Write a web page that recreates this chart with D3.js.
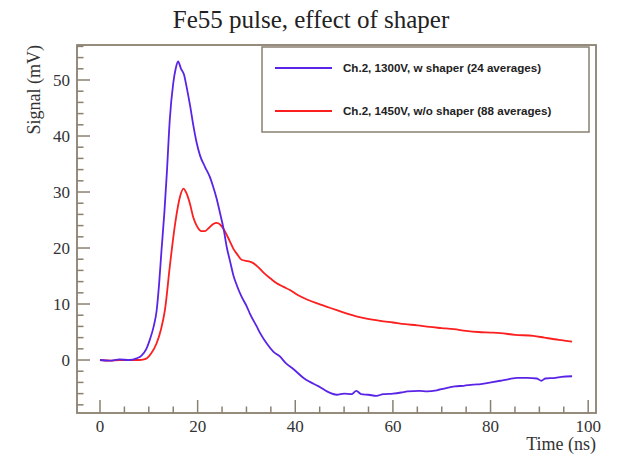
<!DOCTYPE html>
<html>
<head>
    <title>Fe55 pulse, effect of shaper</title>
    <style>
        html, body { margin: 0; padding: 0; background: #fff; }
        .tick-label { font-family: "Liberation Serif", "Times New Roman", serif; font-size: 17px; fill: #333; }
        .legend-text { font-family: "Liberation Sans", Arial, sans-serif; font-size: 11.6px; font-weight: bold; fill: #222; }
    </style>
    <script src="https://d3js.org/d3.v7.min.js"></script>
</head>
<body>
    <svg id="chart"></svg>
</body>
<script>
// time axis (ns) and signals (mV)
const blueTime = [0, 2, 4, 6, 7.5, 8.5, 9.5, 10.2, 11, 11.6, 12.1, 12.6, 13.2, 13.7, 14.3, 15.0, 15.5, 16.0, 16.6, 17.2, 17.8, 18.5, 19.1, 19.8, 20.5, 21.5, 22.5, 23.2, 23.9, 24.6, 25.3, 26.0, 26.6, 27.3, 28.0, 29.0, 30.1, 30.7, 32.1, 32.8, 34.2, 35.5, 36.9, 38, 39.6, 41.7, 43, 44.8, 46.5, 48.5, 50, 51.5, 52.5, 53.5, 55, 56.6, 58, 60, 61.7, 63, 65.4, 67, 69, 70.5, 72.7, 74.5, 76.4, 78, 80.1, 82, 83.8, 85.5, 87.5, 89.5, 90.4, 91.2, 93.3, 94.5, 96.7];
const blueSignal = [0.0, -0.1, 0.1, 0.0, 0.3, 0.8, 2.0, 3.6, 6.0, 8.8, 13.5, 19.6, 26.5, 33.5, 43.0, 49.4, 52, 53.3, 52.0, 51.0, 48.5, 45.2, 42.0, 38.8, 36.5, 34.5, 32.7, 30.9, 28.8, 26.2, 23.5, 20.0, 17.8, 15.2, 13.4, 11.3, 9.5, 8.3, 6.0, 4.8, 2.9, 1.5, 0.6, -0.5, -1.6, -3.2, -3.9, -4.7, -5.6, -6.2, -6.0, -6.1, -5.5, -6.1, -6.2, -6.4, -6.1, -6.0, -5.8, -5.6, -5.5, -5.6, -5.4, -5.1, -4.7, -4.6, -4.4, -4.3, -4.0, -3.7, -3.4, -3.2, -3.2, -3.3, -3.7, -3.3, -3.2, -3.0, -2.9];

const redTime = [0, 2, 4, 6, 8, 9, 9.6, 10.5, 11.6, 12.5, 13.3, 14.3, 15.4, 16.4, 17.1, 17.6, 18.4, 19.1, 19.8, 20.8, 21.5, 22.2, 23.2, 23.9, 24.6, 25.3, 26.6, 27.3, 28, 29, 30.5, 31.4, 32.5, 33.5, 35, 36.2, 37.5, 38.9, 40.5, 42.4, 44.5, 46.5, 48.5, 50.6, 52.5, 54.6, 57.4, 60, 62.5, 65, 67.5, 70, 72.5, 75, 77.5, 80, 82, 85, 88.8, 91, 94, 96.7];
const redSignal = [0.0, -0.1, 0.0, 0.0, 0.0, 0.1, 0.3, 1.2, 3.0, 5.5, 8.9, 16.7, 24.4, 29.2, 30.6, 30.0, 28.0, 25.5, 24.0, 23.0, 23.0, 23.5, 24.3, 24.5, 24.2, 23.4, 21.2, 19.9, 19.0, 17.9, 17.6, 17.3, 16.5, 15.6, 14.5, 13.7, 13.1, 12.5, 11.6, 10.8, 10.1, 9.5, 8.9, 8.3, 7.8, 7.4, 7.0, 6.7, 6.4, 6.2, 5.9, 5.7, 5.5, 5.2, 5.0, 4.9, 4.8, 4.5, 4.3, 4.0, 3.6, 3.3];

const xMajor = [0, 20, 40, 60, 80, 100];
const yMajor = [0, 10, 20, 30, 40, 50];
const legendLabels = ["Ch.2, 1300V, w shaper (24 averages)", "Ch.2, 1450V, w/o shaper (88 averages)"];

const W = 623, H = 457;
const frame = { left: 77, right: 596, top: 45, bottom: 413 };
const axisColor = "#8a8070";
const blueColor = "#5a24e6";
const redColor = "#fb1f1f";

const svg = d3.select("#chart").attr("width", W).attr("height", H);

const x = d3.scaleLinear().domain([-4.71, 101.6]).range([frame.left, frame.right]);
const y = d3.scaleLinear().domain([-9.46, 56.25]).range([frame.bottom, frame.top]);

// title
svg.append("text")
    .attr("x", 311).attr("y", 28)
    .attr("text-anchor", "middle")
    .attr("font-family", "Liberation Serif, Times New Roman, serif")
    .attr("font-size", "25px")
    .attr("fill", "#222")
    .text("Fe55 pulse, effect of shaper");

// curves
const line = d3.line().x(d => x(d[0])).y(d => y(d[1])).curve(d3.curveMonotoneX);
const plot = svg.append("g");
plot.append("path")
    .datum(redTime.map((t, i) => [t, redSignal[i]]))
    .attr("d", line).attr("fill", "none")
    .attr("stroke", redColor).attr("stroke-width", 1.8);
plot.append("path")
    .datum(blueTime.map((t, i) => [t, blueSignal[i]]))
    .attr("d", line).attr("fill", "none")
    .attr("stroke", blueColor).attr("stroke-width", 1.8);

// frame
svg.append("rect")
    .attr("x", frame.left).attr("y", frame.top)
    .attr("width", frame.right - frame.left).attr("height", frame.bottom - frame.top)
    .attr("fill", "none").attr("stroke", axisColor).attr("stroke-width", 1.8);

// x axis: ticks pointing inward
const xAxis = svg.append("g");
const xMinor = d3.range(0, 101, 5);
xAxis.selectAll(".xminor").data(xMinor).enter().append("line")
    .attr("x1", d => x(d)).attr("x2", d => x(d))
    .attr("y1", frame.bottom).attr("y2", d => frame.bottom - (d % 20 === 0 ? 13 : 6.5))
    .attr("stroke", axisColor).attr("stroke-width", 1.5);
xAxis.selectAll(".xlabel").data(xMajor).enter().append("text")
    .attr("class", "tick-label")
    .attr("x", d => x(d)).attr("y", 432)
    .attr("text-anchor", "middle")
    .text(d => d);
svg.append("text")
    .attr("x", frame.right).attr("y", 450)
    .attr("text-anchor", "end")
    .attr("font-family", "Liberation Serif, Times New Roman, serif")
    .attr("font-size", "18px").attr("fill", "#333")
    .text("Time (ns)");

// y axis
const yAxis = svg.append("g");
const yMinor = d3.range(-8, 57, 2);
yAxis.selectAll(".yminor").data(yMinor).enter().append("line")
    .attr("y1", d => y(d)).attr("y2", d => y(d))
    .attr("x1", frame.left).attr("x2", d => frame.left + (d % 10 === 0 ? 13 : 6.5))
    .attr("stroke", axisColor).attr("stroke-width", 1.5);
yAxis.selectAll(".ylabel").data(yMajor).enter().append("text")
    .attr("class", "tick-label")
    .attr("x", 70).attr("y", d => y(d))
    .attr("dy", "0.35em")
    .attr("text-anchor", "end")
    .text(d => d);
svg.append("text")
    .attr("transform", "translate(40," + frame.top + ") rotate(-90)")
    .attr("text-anchor", "end")
    .attr("font-family", "Liberation Serif, Times New Roman, serif")
    .attr("font-size", "18px").attr("fill", "#333")
    .text("Signal (mV)");

// legend
const legend = svg.append("g");
legend.append("rect")
    .attr("x", 262).attr("y", 47).attr("width", 327).attr("height", 85)
    .attr("fill", "#fff").attr("stroke", axisColor).attr("stroke-width", 1.5);
const legendY = [68, 111];
[blueColor, redColor].forEach((c, i) => {
    legend.append("line")
        .attr("x1", 275).attr("x2", 332)
        .attr("y1", legendY[i]).attr("y2", legendY[i])
        .attr("stroke", c).attr("stroke-width", 1.8);
    legend.append("text")
        .attr("class", "legend-text")
        .attr("x", 343).attr("y", legendY[i]).attr("dy", "0.35em")
        .text(legendLabels[i]);
});
</script>
</html>
